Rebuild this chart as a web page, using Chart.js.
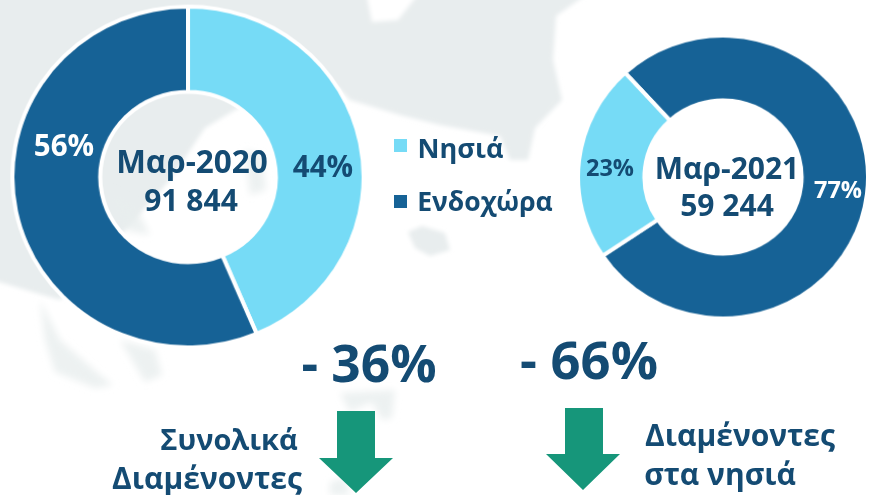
<!DOCTYPE html>
<html lang="el">
<head>
<meta charset="utf-8">
<title>Διαμένοντες</title>
<script src="https://cdn.jsdelivr.net/npm/chart.js@4"></script>
<style>
html,body{margin:0;padding:0;background:#fff;}
#stage{position:relative;width:876px;height:495px;overflow:hidden;font-family:"Open Sans",sans-serif;font-weight:700;color:#144b73;}
#map,#arrows{position:absolute;left:0;top:0;}
canvas{position:absolute;}
#c1{left:13px;top:1.5px;transform:scale(1.015,.985);}
#c2{left:578px;top:31.5px;transform:scale(1.014,.989);}
.t{position:absolute;white-space:nowrap;transform:translate(-50%,-50%);line-height:1;}
.k{position:absolute;width:13px;height:13px;}
</style>
</head>
<body>
<div id="stage">
<svg id="map" width="876" height="495">
<defs><filter id="b" x="-20%" y="-20%" width="140%" height="140%"><feGaussianBlur stdDeviation="2.2"/></filter>
<filter id="s" x="-30%" y="-30%" width="160%" height="160%"><feGaussianBlur stdDeviation="3.5"/></filter></defs>
<g fill="#e8edee" filter="url(#b)">
<path d="M-8-8H590L556 16 553 60 562 100 535 128 528 160 510 160 500 136 440 125 400 115 350 100 335 85 310 70 235 110 205 128 170 180 130 225 60 300 -8 280Z"/>
<path d="M366-8 L420-8 398 20 372 22Z" fill="#fff"/>
<path d="M408 232 422 226 445 233 450 250 430 256 415 248Z"/>
</g>
<g fill="#e8edee" filter="url(#s)" fill-opacity=".8">
<path d="M245 150 262 155 266 190 250 195Z"/>
<path d="M108 190 135 205 150 235 125 230Z"/>
<path d="M40 300 60 340 100 375 113 385 95 388 55 372 45 340Z"/>
<path d="M120 340 155 350 162 375 145 382Z"/>
<path d="M340 393 395 390 392 418 382 420 372 402 350 412Z"/>
<path d="M330 482 345 478 350 495 330 495Z"/>
</g>
</svg>
<canvas id="c1" width="350" height="350"></canvas>
<canvas id="c2" width="290" height="290"></canvas>
<svg id="arrows" width="876" height="495">
<path fill="#16967a" d="M337 411H375V458H393L356 493 319 458H337Z"/>
<path fill="#16967a" d="M565 408H603V454H620L583 490 546 454H565Z"/>
</svg>
<div id="labels"></div>
</div>
<script>
const categories = ["Νησιά", "Ενδοχώρα"];
const values2020 = [43.6, 56.4];
const values2021 = [77.4, 22.6];
const colors2021 = ["#166296", "#76dbf6"];
const colors2020 = ["#76dbf6", "#166296"];
const labels2021 = ["Ενδοχώρα", "Νησιά"];
const titles = ["Μαρ-2020", "Μαρ-2021"];
const totals = ["91 844", "59 244"];
const changes = ["- 36%", "- 66%"];
const common = {responsive:false, animation:false, maintainAspectRatio:false,
  layout:{padding:0}, plugins:{legend:{display:false}, tooltip:{enabled:false}}};
new Chart(document.getElementById("c1"), {type:"doughnut",
  data:{labels:categories, datasets:[{data:values2020, backgroundColor:colors2020, borderColor:"#fff", borderWidth:4}]},
  options:{...common, cutout:"50%"}});
new Chart(document.getElementById("c2"), {type:"doughnut",
  data:{labels:labels2021, datasets:[{data:values2021, backgroundColor:colors2021, borderColor:"#fff", borderWidth:4}]},
  options:{...common, cutout:"54.2%", rotation:-42.5}});
const L = document.getElementById("labels");
function t(s,x,y,size,color,extra){
  const d=document.createElement("div"); d.className="t"; d.textContent=s;
  d.style.cssText=`left:${x}px;top:${y}px;font-size:${size}px;${color?"color:"+color+";":""}${extra||""}`;
  L.appendChild(d);
}
t(titles[0],192,161,31.5);
t(totals[0],191,200,30);
t(titles[1],727,168,30);
t(totals[1],727,205,30);
t("56%",64,145,29.5,"#fff");
t("44%",323,166,29.5);
t("23%",610,168,23.5);
t("77%",838,190,23.5,"#fff");
t(changes[0],369,363,51.5);
t(changes[1],589,359,52.5);
t(categories[0],460.5,147,27);
t(categories[1],485,201,26.5);
t("Συνολικά",229,438,29);
t("Διαμένοντες",207,478,30);
t("Διαμένοντες",740,435,30);
t("στα νησιά",720,474,30);
[[394,139,colors2020[0]],[394,195,colors2020[1]]].forEach(([x,y,c])=>{
  const k=document.createElement("div"); k.className="k";
  k.style.left=x+"px"; k.style.top=y+"px"; k.style.background=c; L.appendChild(k);
});
</script>
</body>
</html>
